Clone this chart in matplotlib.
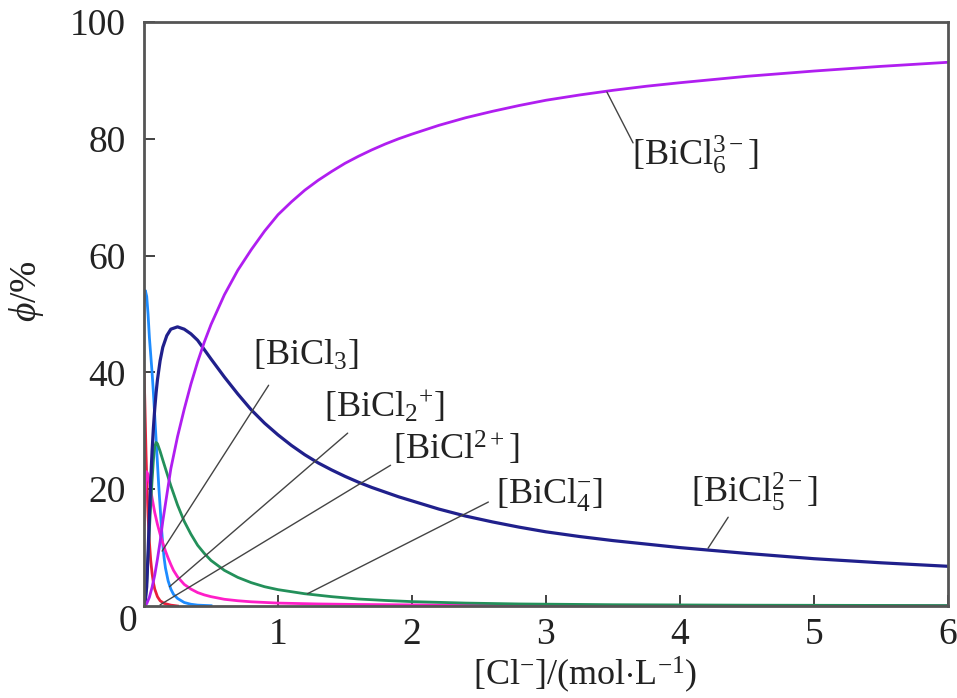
import matplotlib
matplotlib.use("Agg")
import matplotlib.pyplot as plt

plt.rcParams['font.family'] = ['Liberation Serif', 'DejaVu Serif']
plt.rcParams['mathtext.fontset'] = 'custom'
plt.rcParams['mathtext.rm'] = 'Liberation Serif'
plt.rcParams['mathtext.it'] = 'Liberation Serif:italic'
plt.rcParams['mathtext.bf'] = 'Liberation Serif:bold'

# Species distribution of Bi(III) chloro complexes vs. chloride concentration
x_bicl6 = [0.0, 0.02, 0.04, 0.06, 0.08, 0.1, 0.12, 0.14, 0.17, 0.2, 0.25, 0.3, 0.35, 0.4,
           0.45, 0.5, 0.6, 0.7, 0.8, 0.9, 1.0, 1.1, 1.2, 1.3, 1.4, 1.5, 1.6, 1.7, 1.8,
           1.9, 2.0, 2.2, 2.4, 2.6, 2.8, 3.0, 3.25, 3.5, 3.75, 4.0, 4.5, 5.0, 5.5, 6.0]
y_bicl6 = [0, 0.4, 1.5, 3.2, 5.3, 8, 11, 14.5, 19, 23.5, 29, 33.7, 38, 41.8,
           45.2, 48.2, 53.3, 57.5, 61, 64.2, 67, 69.2, 71.2, 72.9, 74.4, 75.8, 77, 78.1, 79.1,
           80, 80.8, 82.3, 83.6, 84.7, 85.7, 86.6, 87.5, 88.3, 89, 89.6, 90.7, 91.6, 92.4, 93.1]

x_bicl5 = [0.0, 0.01, 0.02, 0.03, 0.04, 0.05, 0.06, 0.07, 0.08, 0.09, 0.1, 0.12, 0.14, 0.17,
           0.2, 0.25, 0.3, 0.35, 0.4, 0.5, 0.6, 0.7, 0.8, 0.9, 1.0, 1.1, 1.2, 1.3, 1.4,
           1.5, 1.6, 1.7, 1.8, 1.9, 2.0, 2.2, 2.4, 2.6, 2.8, 3.0, 3.25, 3.5, 3.75, 4.0,
           4.5, 5.0, 5.5, 6.0]
y_bicl5 = [0, 1, 3.3, 9, 15.5, 21.5, 26.5, 30.5, 33.8, 36.5, 38.7, 42, 44.3, 46.3,
           47.4, 47.8, 47.4, 46.6, 45.5, 42.3, 39.2, 36.3, 33.6, 31.3, 29.3, 27.5, 25.9, 24.5, 23.3,
           22.2, 21.2, 20.3, 19.5, 18.7, 18.0, 16.6, 15.4, 14.4, 13.5, 12.7, 11.9, 11.2, 10.6, 10.0,
           9.0, 8.1, 7.4, 6.8]

x_bicl4 = [0.0, 0.01, 0.02, 0.03, 0.04, 0.05, 0.06, 0.07, 0.08, 0.09, 0.1, 0.12, 0.14, 0.17,
           0.2, 0.25, 0.3, 0.35, 0.4, 0.45, 0.5, 0.6, 0.7, 0.8, 0.9, 1.0, 1.2, 1.4, 1.6,
           1.8, 2.0, 2.4, 2.8, 3.5, 4.5, 6.0]
y_bicl4 = [0, 1, 4, 8.5, 13, 17.5, 21.5, 25, 27.3, 28, 27.8, 26.5, 25, 22.8,
           20.6, 17.3, 14.5, 12.3, 10.4, 9, 7.8, 6.1, 4.9, 4.0, 3.3, 2.8, 2.1, 1.6, 1.2,
           0.95, 0.75, 0.5, 0.35, 0.22, 0.14, 0.08]

x_bicl3 = [0.0, 0.01, 0.02, 0.03, 0.04, 0.06, 0.08, 0.1, 0.12, 0.14, 0.16, 0.18, 0.2, 0.22,
           0.25, 0.3, 0.35, 0.4, 0.45, 0.5, 0.6, 0.7, 0.8, 1.0, 1.3, 1.6, 2.0, 3.0, 4.0, 6.0]
y_bicl3 = [14, 20, 23, 22.5, 21.2, 18.5, 16, 14, 12.3, 10.8, 9.4, 8.2, 7.1, 6.1,
           5, 3.7, 2.9, 2.3, 1.9, 1.6, 1.15, 0.9, 0.72, 0.5, 0.35, 0.26, 0.19, 0.1, 0.07, 0.04]

x_bicl2 = [0.0, 0.01, 0.02, 0.03, 0.04, 0.05, 0.06, 0.07, 0.08, 0.09, 0.1, 0.11, 0.12, 0.13,
           0.14, 0.15, 0.16, 0.18, 0.2, 0.22, 0.25, 0.3, 0.35, 0.4, 0.5]
y_bicl2 = [52, 54, 53, 50, 46, 43, 40, 36.5, 32.5, 28.5, 24.5, 20.5, 17, 13.5,
           10.5, 8.2, 6.5, 4.3, 2.9, 2.0, 1.3, 0.6, 0.3, 0.15, 0.05]

x_bicl1 = [0.0, 0.005, 0.01, 0.015, 0.02, 0.03, 0.04, 0.05, 0.06, 0.07, 0.08, 0.1, 0.12,
           0.15, 0.2, 0.25]
y_bicl1 = [40, 36, 31, 26, 22, 15.5, 11, 7.8, 5.6, 4, 2.9, 1.6, 0.9,
           0.45, 0.15, 0]

x_ticks = [1, 2, 3, 4, 5, 6]
y_ticks = [20, 40, 60, 80, 100]

fig = plt.figure(figsize=(9.57, 6.98), dpi=100)
ax = fig.add_axes([0.1505, 0.1318, 0.840, 0.8367])

lw = 2.0
ax.plot(x_bicl1, y_bicl1, color='#e8203c', lw=lw)
ax.plot(x_bicl2, y_bicl2, color='#1e8cff', lw=lw)
ax.plot(x_bicl3, y_bicl3, color='#ff1ec8', lw=lw)
ax.plot(x_bicl4, y_bicl4, color='#23905a', lw=lw)
ax.plot(x_bicl5, y_bicl5, color='#20208c', lw=lw + 0.3)
ax.plot(x_bicl6, y_bicl6, color='#b01ef0', lw=lw)

ax.set_xlim(0, 6)
ax.set_ylim(0, 100)
ax.set_xticks(x_ticks)
ax.set_yticks(y_ticks)
ax.tick_params(direction='in', length=8, width=1.3, colors='#333333',
               labelsize=27, labelcolor='#222222')
ax.tick_params(axis='x', pad=8)
ax.tick_params(axis='y', pad=13)
for s in ax.spines.values():
    s.set_color('#555555')
    s.set_linewidth(2.0)

ax.text(-0.12, -2.7, '0', ha='center', va='center', fontsize=27, color='#222222')

ax.set_xlabel(r'$[\mathrm{Cl}^{-}]/(\mathrm{mol{\cdot}L}^{-1})$', fontsize=26,
              color='#222222')
ax.xaxis.set_label_coords(0.549, -0.083)
ax.set_ylabel(r'$\phi$/%', fontsize=27, color='#222222')
ax.yaxis.set_label_coords(-0.122, 0.54)

lead = dict(arrowstyle='-', color='#444444', lw=1.0, shrinkA=0, shrinkB=0)
fs = 26
labels = [
    (r'$[\mathrm{BiCl}_6^{3-}]$', (3.455, 88.0), (3.65, 79.3), (3.64, 77.2)),
    (r'$[\mathrm{BiCl}_5^{2-}]$', (4.21, 9.9), (4.36, 15.2), (4.08, 19.5)),
    (r'$[\mathrm{BiCl}_4^{-}]$', (1.22, 2.1), (2.57, 17.8), (2.63, 19.0)),
    (r'$[\mathrm{BiCl}^{2+}]$', (0.12, 0.2), (1.84, 24.1), (1.86, 26.9)),
    (r'$[\mathrm{BiCl}_2{}^{+}]$', (0.19, 3.3), (1.52, 29.6), (1.34, 34.2)),
    (r'$[\mathrm{BiCl}_3]$', (0.135, 9.4), (0.93, 37.8), (0.815, 42.8)),
]
for txt, p_curve, p_end, p_text in labels:
    ax.annotate('', xy=p_curve, xytext=p_end, arrowprops=lead)
    ax.text(p_text[0], p_text[1], txt, fontsize=fs, ha='left', va='center',
            color='#222222')

fig.savefig('out.png', dpi=100)
